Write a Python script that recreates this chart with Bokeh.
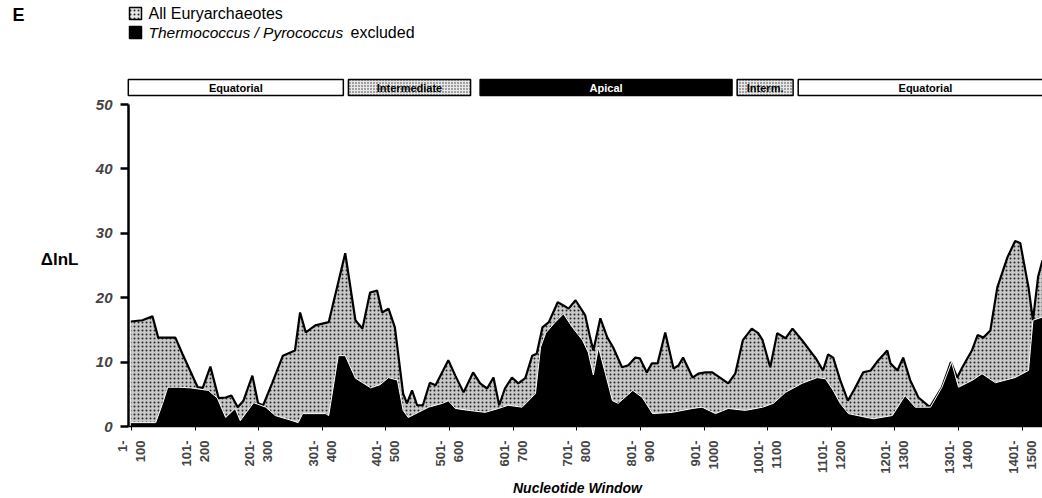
from bokeh.plotting import figure
from bokeh.models import Range1d, FixedTicker
from bokeh.core.properties import value
from bokeh.embed import file_html
from bokeh.resources import INLINE

FONT = "Liberation Sans"

# ---- data ----
all_pos = [0, 18, 34, 43, 70, 81, 105, 113, 125, 138,
           149, 158, 168, 177, 191, 200, 208, 222, 239, 258,
           266, 275, 290, 311, 337, 353, 364, 376, 387, 395,
           405, 415, 428, 434, 442, 450, 459, 470, 479, 499,
           510, 523, 538, 549, 560, 570, 579, 588, 599, 609,
           620, 631, 638, 647, 657, 671, 680, 688, 699, 714,
           722, 727, 738, 749, 758, 772, 782, 793, 800, 811,
           819, 828, 840, 853, 861, 868, 883, 892, 903, 914,
           926, 939, 950, 962, 976, 986, 993, 1005, 1016, 1029,
           1040, 1055, 1071, 1076, 1088, 1096, 1104, 1115, 1127, 1138,
           1151, 1163, 1175, 1189, 1194, 1205, 1214, 1225, 1238, 1256,
           1275, 1289, 1299, 1306, 1322, 1331, 1340, 1351, 1362, 1378,
           1390, 1398, 1411, 1418, 1426, 1433]
all_dlnl = [16.3, 16.5, 17.1, 13.8, 13.8, 11.3, 6.1, 6.0, 9.3, 4.4,
            4.5, 4.8, 3.0, 4.0, 7.9, 3.6, 3.3, 6.7, 11.0, 11.8,
            17.7, 14.6, 15.7, 16.2, 26.9, 16.5, 15.2, 20.8, 21.1, 17.7,
            18.3, 15.4, 5.1, 3.6, 5.6, 3.3, 3.3, 6.8, 6.4, 10.3,
            7.9, 5.3, 8.4, 6.7, 5.9, 7.6, 3.3, 5.9, 7.6, 6.7,
            7.5, 11.0, 11.3, 15.4, 16.2, 19.3, 18.8, 18.3, 19.6, 17.3,
            13.8, 11.8, 16.8, 13.8, 12.3, 9.2, 9.5, 10.7, 10.6, 8.4,
            9.8, 9.8, 14.6, 9.0, 9.5, 10.7, 7.6, 8.2, 8.4, 8.4,
            7.6, 6.7, 8.2, 13.4, 15.2, 14.5, 13.4, 9.2, 14.5, 13.7,
            15.2, 13.4, 11.3, 10.7, 8.7, 11.2, 10.7, 7.2, 4.0, 5.9,
            8.4, 8.7, 10.3, 11.8, 9.8, 8.7, 10.7, 7.2, 4.5, 3.0,
            6.1, 10.0, 7.6, 9.0, 11.8, 14.2, 13.8, 14.9, 21.6, 26.3,
            28.8, 28.5, 21.6, 16.5, 23.2, 25.8]

excl_pos = [0, 39, 50, 58, 75, 94, 122, 136, 149, 164,
            172, 193, 212, 227, 254, 263, 270, 306, 311, 326,
            337, 353, 377, 392, 405, 419, 428, 436, 452, 468,
            490, 499, 510, 531, 557, 578, 593, 615, 636, 644,
            652, 667, 680, 694, 710, 719, 727, 735, 746, 757,
            766, 789, 804, 820, 851, 883, 898, 919, 939, 966,
            993, 1010, 1029, 1055, 1079, 1092, 1104, 1115, 1128, 1147,
            1167, 1197, 1217, 1233, 1257, 1275, 1290, 1301, 1323, 1338,
            1359, 1390, 1411, 1418, 1433]
excl_dlnl = [0.6, 0.6, 3.6, 6.1, 6.1, 6.0, 5.6, 4.4, 1.4, 2.8,
             0.9, 3.7, 3.0, 1.7, 0.9, 0.6, 2.0, 2.0, 1.7, 11.0,
             11.0, 7.5, 6.0, 6.5, 7.6, 7.2, 2.5, 1.4, 2.2, 3.0,
             3.6, 4.0, 2.8, 2.5, 2.2, 2.8, 3.3, 3.0, 5.1, 12.3,
             14.5, 16.2, 17.5, 15.4, 13.4, 11.5, 8.0, 12.3, 8.2, 4.0,
             3.6, 5.6, 4.5, 2.0, 2.2, 2.8, 3.0, 2.0, 2.8, 2.5,
             3.0, 3.6, 5.3, 6.7, 7.6, 7.4, 5.6, 3.6, 2.0, 1.6,
             1.2, 1.7, 4.8, 3.0, 3.0, 6.1, 10.0, 6.1, 7.2, 8.2,
             6.8, 7.6, 8.7, 16.5, 17.0]

window_starts = [1, 101, 201, 301, 401, 501, 601, 701, 801, 901,
                 1001, 1101, 1201, 1301, 1401]
window_labels = ["1-\n100", "101-\n200", "201-\n300", "301-\n400", "401-\n500",
                 "501-\n600", "601-\n700", "701-\n800", "801-\n900", "901-\n1000",
                 "1001-\n1100", "1101-\n1200", "1201-\n1300", "1301-\n1400", "1401-\n1500"]
y_ticks = [0, 10, 20, 30, 40, 50]

domain_names = ["Equatorial", "Intermediate", "Apical", "Interm.", "Equatorial"]
domain_start = [-4, 342, 549, 953, 1049]
domain_end = [334, 534, 945, 1041, 1445]

# ---- page geometry: the frame covers the whole page, axes are pinned inside it ----
X_MIN, X_MAX = -3.7, 1433                      # data extent of the chart area
X_LEFT = X_MIN - 128 * (X_MAX - X_MIN) / 914   # page left edge in data units
Y_MIN, Y_MAX = -72 / 6.44, 50 + 104 / 6.44     # page bottom / top in data units

p = figure(frame_width=1042, frame_height=498, x_range=Range1d(X_LEFT, X_MAX),
           y_range=Range1d(Y_MIN, Y_MAX), min_border=0, min_border_left=0,
           min_border_right=0, min_border_top=0, min_border_bottom=0,
           toolbar_location=None, output_backend="svg", outline_line_color=None)
p.grid.visible = False
# helper pixel-like ranges for the header elements
p.extra_x_ranges = {"px": Range1d(0, 1042)}
p.extra_y_ranges = {"px": Range1d(498, 0)}

# ---- series ----
p.varea(x=all_pos, y1=0, y2=all_dlnl, fill_color="#c8c8c8", hatch_pattern="dot",
        hatch_color="#111111", hatch_scale=4, hatch_alpha=0.9)
p.line(x=all_pos, y=all_dlnl, line_color="black", line_width=2.2)
p.varea(x=excl_pos, y1=0, y2=excl_dlnl, fill_color="black")
p.line(x=excl_pos, y=excl_dlnl, line_color="white", line_width=1)

# ---- panel letter, legend ----
p.text(x=[12], y=[14], text=["E"], x_range_name="px", y_range_name="px",
       text_font=value(FONT), text_font_style="bold", text_font_size="18px",
       text_baseline="middle")
p.quad(left=[129], right=[141], top=[7], bottom=[19], x_range_name="px", y_range_name="px",
       fill_color="#e6e6e6", hatch_pattern="dot", hatch_color="#222222", hatch_scale=4,
       line_color="black", line_width=1.5)
p.quad(left=[129], right=[141], top=[26], bottom=[38], x_range_name="px", y_range_name="px",
       fill_color="black", line_color="black", line_width=1.5)
p.text(x=[148], y=[13], text=["All Euryarchaeotes"], x_range_name="px", y_range_name="px",
       text_font=value(FONT), text_font_size="16px", text_baseline="middle")
p.text(x=[148], y=[32], text=["Thermococcus / Pyrococcus"], x_range_name="px",
       y_range_name="px", text_font=value(FONT), text_font_style="italic",
       text_font_size="15.5px", text_baseline="middle")
p.text(x=[350], y=[32], text=["excluded"], x_range_name="px", y_range_name="px",
       text_font=value(FONT), text_font_size="16px", text_baseline="middle")

# ---- domain bars ----
dom_fill = ["white", "#e8e8e8", "black", "#e8e8e8", "white"]
dom_hatch = [" ", "dot", " ", "dot", " "]
dom_text_col = ["black", "black", "white", "black", "black"]
dom_mid = [(a + b) / 2 for a, b in zip(domain_start, domain_end)]
dom_mid[-1] = (domain_start[-1] + X_MAX) / 2 + 8
p.quad(left=domain_start, right=domain_end, top=79, bottom=95, y_range_name="px",
       fill_color=dom_fill, hatch_pattern=dom_hatch, hatch_color="#333333",
       hatch_scale=3, line_color="black", line_width=1.5)
p.text(x=dom_mid, y=87, text=domain_names, y_range_name="px", text_color=dom_text_col,
       text_font=value(FONT), text_font_style="bold", text_font_size="11px",
       text_align="center", text_baseline="middle")

# ---- y axis (pinned at the chart's left edge) ----
p.yaxis.fixed_location = X_MIN
p.yaxis.bounds = (0, 50)
p.yaxis.ticker = FixedTicker(ticks=y_ticks)
p.yaxis.axis_line_width = 2.5
p.yaxis.major_tick_line_width = 2.5
p.yaxis.major_tick_out = 8
p.yaxis.major_tick_in = 0
p.yaxis.minor_tick_line_color = None
p.yaxis.major_label_standoff = 8
p.yaxis.major_label_text_font = FONT
p.yaxis.major_label_text_font_style = "bold italic"
p.yaxis.major_label_text_font_size = "15px"
p.text(x=[78], y=[26], text=["\u0394lnL"], x_range_name="px", text_align="right",
       text_baseline="middle", text_font=value(FONT), text_font_style="bold",
       text_font_size="17px")

# ---- x axis (pinned at y = 0) ----
p.xaxis.fixed_location = 0
p.xaxis.bounds = (X_MIN, X_MAX)
p.xaxis.ticker = FixedTicker(ticks=window_starts)
p.xaxis.major_label_overrides = dict(zip(window_starts, window_labels))
p.xaxis.major_label_orientation = 3.14159265 / 2
p.xaxis.axis_line_width = 1.5
p.xaxis.major_tick_out = 4
p.xaxis.major_tick_in = 0
p.xaxis.minor_tick_line_color = None
p.xaxis.major_label_standoff = 10
p.xaxis.major_label_text_font = FONT
p.xaxis.major_label_text_font_style = "bold"
p.xaxis.major_label_text_font_size = "13px"
p.text(x=[577], y=[487], text=["Nucleotide Window"], x_range_name="px", y_range_name="px",
       text_align="center", text_baseline="middle", text_font=value(FONT),
       text_font_style="bold italic", text_font_size="14px")

open("out.html", "w").write(file_html(p, INLINE))
